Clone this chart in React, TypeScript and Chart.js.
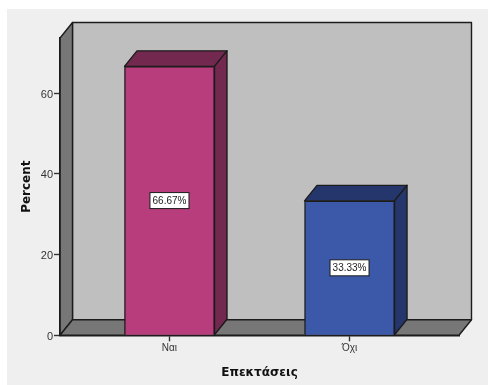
import React, { useEffect, useRef } from "react";
import { Chart, registerables } from "chart.js";

Chart.register(...registerables);

const categories = ["Ναι", "Όχι"];
const categoryPositions = [0, 1];
const percentValues = [66.67, 33.33];
const percentTicks = [0, 20, 40, 60];
const frontColors = ["#b83d7c", "#3c58a8"];
const shadeColors = ["#72284f", "#25366c"];

const DEPTH_X = 12.5;
const DEPTH_Y = 15.5;
const EDGE = "#1c1c1c";

function polygon(ctx: CanvasRenderingContext2D, pts: number[][], fill: string) {
  ctx.beginPath();
  pts.forEach(([x, y], i) => (i ? ctx.lineTo(x, y) : ctx.moveTo(x, y)));
  ctx.closePath();
  ctx.fillStyle = fill;
  ctx.fill();
  ctx.strokeStyle = EDGE;
  ctx.lineWidth = 1.4;
  ctx.lineJoin = "round";
  ctx.stroke();
}

// Page-grey panel, back wall, left wall and floor of the 3-D box.
const boxPlugin = {
  id: "box3d",
  beforeDraw(chart: any) {
    const { ctx, chartArea: a, width, height } = chart;
    ctx.save();
    ctx.fillStyle = "#efefef";
    ctx.fillRect(7, 9, width - 7, height - 9);
    polygon(ctx, [[a.left + DEPTH_X, a.top - DEPTH_Y], [a.right + DEPTH_X, a.top - DEPTH_Y], [a.right + DEPTH_X, a.bottom - DEPTH_Y], [a.left + DEPTH_X, a.bottom - DEPTH_Y]], "#bfbfbf");
    polygon(ctx, [[a.left, a.top], [a.left + DEPTH_X, a.top - DEPTH_Y], [a.left + DEPTH_X, a.bottom - DEPTH_Y], [a.left, a.bottom]], "#777777");
    polygon(ctx, [[a.left, a.bottom], [a.left + DEPTH_X, a.bottom - DEPTH_Y], [a.right + DEPTH_X, a.bottom - DEPTH_Y], [a.right, a.bottom]], "#777777");
    ctx.restore();
  },
  // Top and side faces sit behind the front rectangles the bar elements draw.
  beforeDatasetsDraw(chart: any) {
    const { ctx } = chart;
    ctx.save();
    chart.getDatasetMeta(0).data.forEach((bar: any, i: number) => {
      const { x, y, base, width } = bar.getProps(["x", "y", "base", "width"], true);
      const l = x - width / 2;
      const r = x + width / 2;
      polygon(ctx, [[l, y], [l + DEPTH_X, y - DEPTH_Y], [r + DEPTH_X, y - DEPTH_Y], [r, y]], shadeColors[i]);
      polygon(ctx, [[r, y], [r + DEPTH_X, y - DEPTH_Y], [r + DEPTH_X, base - DEPTH_Y], [r, base]], shadeColors[i]);
    });
    ctx.restore();
  },
  // Boxed percentage label in the middle of each bar.
  afterDatasetsDraw(chart: any) {
    const { ctx } = chart;
    ctx.save();
    ctx.font = '10px "Liberation Sans"';
    ctx.textAlign = "center";
    ctx.textBaseline = "middle";
    chart.getDatasetMeta(0).data.forEach((bar: any, i: number) => {
      const { x, y, base } = bar.getProps(["x", "y", "base"], true);
      const cy = (y + base) / 2;
      const text = `${percentValues[i].toFixed(2)}%`;
      ctx.fillStyle = "#ffffff";
      ctx.fillRect(x - 19.5, cy - 8, 39, 16);
      ctx.strokeStyle = EDGE;
      ctx.lineWidth = 1;
      ctx.strokeRect(x - 19.5, cy - 8, 39, 16);
      ctx.fillStyle = "#222222";
      ctx.fillText(text, x, cy + 0.5);
    });
    ctx.restore();
  },
};

export default function App() {
  const ref = useRef<HTMLCanvasElement>(null);

  useEffect(() => {
    const chart = new Chart(ref.current!, {
      type: "bar",
      data: {
        datasets: [
          {
            data: categoryPositions.map((x, i) => ({ x, y: percentValues[i] })),
            backgroundColor: frontColors,
            borderColor: EDGE,
            borderWidth: 1.4,
            barThickness: 90,
          },
        ],
      },
      options: {
        animation: false,
        responsive: false,
        layout: { padding: { left: 16, top: 38, right: 29, bottom: 5 } },
        plugins: { legend: { display: false }, tooltip: { enabled: false } },
        scales: {
          x: {
            type: "linear",
            offset: false,
            min: -0.608,
            max: 1.608,
            afterBuildTicks: (scale: any) => {
              scale.ticks = categoryPositions.map((value) => ({ value }));
            },
            afterFit: (scale: any) => {
              scale.height = 44.7;
            },
            grid: { offset: false, drawOnChartArea: false, tickLength: 6, tickColor: "#333333", tickWidth: 1.4 },
            border: { color: EDGE, width: 1.4 },
            ticks: {
              autoSkip: false,
              maxRotation: 0,
              padding: 1,
              color: "#333333",
              font: { family: "Liberation Sans", size: 10 },
              callback: (v: any) => categories[v],
            },
            title: {
              display: true,
              text: "Επεκτάσεις",
              color: "#111111",
              padding: { top: 6, bottom: 0 },
              font: { family: "DejaVu Sans", size: 12, weight: "bold" },
            },
          },
          y: {
            min: 0,
            max: 73.7,
            afterBuildTicks: (scale: any) => {
              scale.ticks = percentTicks.map((value) => ({ value }));
            },
            afterFit: (scale: any) => {
              scale.width = 44;
            },
            grid: { drawOnChartArea: false, tickLength: 6, tickColor: "#333333", tickWidth: 1.4 },
            border: { color: EDGE, width: 1.4 },
            ticks: {
              padding: 1,
              labelOffset: 1.5,
              color: "#333333",
              font: { family: "Liberation Sans", size: 11 },
            },
            title: {
              display: true,
              text: "Percent",
              color: "#111111",
              padding: { top: 4, bottom: 0 },
              font: { family: "DejaVu Sans", size: 12, weight: "bold" },
            },
          },
        },
      },
      plugins: [boxPlugin],
    } as any);
    return () => chart.destroy();
  }, []);

  return (
    <canvas
      ref={ref}
      width={488}
      height={385}
      style={{ position: "fixed", left: 0, top: 0, width: 488, height: 385, display: "block" }}
    />
  );
}
